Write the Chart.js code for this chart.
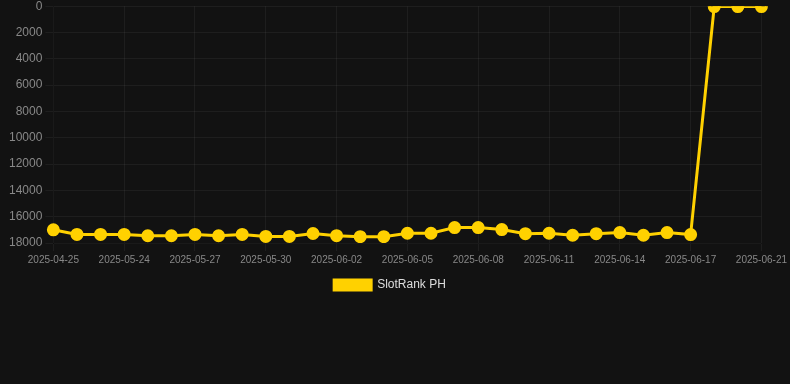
<!DOCTYPE html>
<html>
<head>
<meta charset="utf-8">
<script src="https://cdn.jsdelivr.net/npm/chart.js@4"></script>
<style>
    html, body { margin: 0; padding: 0; background: #121212; overflow: hidden; }
    #wrap { width: 790px; height: 305px; position: relative; margin-top: -4px; }
</style>
</head>
<body>
<div id="wrap"><canvas id="rankChart"></canvas></div>
<script>
// data
const dates = [
    "2025-04-25", "2025-05-22", "2025-05-23", "2025-05-24", "2025-05-25", "2025-05-26",
    "2025-05-27", "2025-05-28", "2025-05-29", "2025-05-30", "2025-05-31", "2025-06-01",
    "2025-06-02", "2025-06-03", "2025-06-04", "2025-06-05", "2025-06-06", "2025-06-07",
    "2025-06-08", "2025-06-09", "2025-06-10", "2025-06-11", "2025-06-12", "2025-06-13",
    "2025-06-14", "2025-06-15", "2025-06-16", "2025-06-17", "2025-06-19", "2025-06-20",
    "2025-06-21",
];
const rankPH = [
    17000, 17350, 17350, 17350, 17450, 17450,
    17350, 17450, 17350, 17500, 17500, 17280,
    17440, 17520, 17520, 17260, 17260, 16830,
    16830, 16980, 17290, 17260, 17410, 17290,
    17210, 17410, 17210, 17360, 30, 30,
    30,
];
const yTicks = { min: 0, max: 18000, step: 2000 };

document.addEventListener("DOMContentLoaded", function () {
    const ctx = document.getElementById("rankChart").getContext("2d");
    const gridColor = "rgba(255,255,255,0.05)";

    new Chart(ctx, {
        type: "line",
        data: {
            labels: dates,
            datasets: [
                {
                    label: "SlotRank PH",
                    data: rankPH,
                    borderColor: "#FFD100",
                    backgroundColor: "#FFD100",
                    borderWidth: 3,
                    pointRadius: 5,
                    pointHoverRadius: 6,
                    tension: 0,
                    fill: false,
                },
            ],
        },
        options: {
            responsive: true,
            maintainAspectRatio: false,
            animation: false,
            layout: { autoPadding: false, padding: { left: 6, right: 16, top: 0 } },
            scales: {
                x: {
                    grid: { color: gridColor },
                    ticks: {
                        color: "#888",
                        font: { size: 10 },
                        maxRotation: 0,
                        autoSkip: true,
                    },
                },
                y: {
                    reverse: true,
                    min: yTicks.min,
                    max: yTicks.max,
                    grid: { color: gridColor },
                    ticks: {
                        stepSize: yTicks.step,
                        color: "#888",
                        font: { size: 12 },
                        callback: (v) => String(v),
                    },
                },
            },
            plugins: {
                legend: {
                    position: "bottom",
                    labels: {
                        color: "#ddd",
                        font: { size: 12 },
                        boxWidth: 37,
                        boxHeight: 10,
                    },
                },
                tooltip: { enabled: true },
            },
        },
    });
});
</script>
</body>
</html>
